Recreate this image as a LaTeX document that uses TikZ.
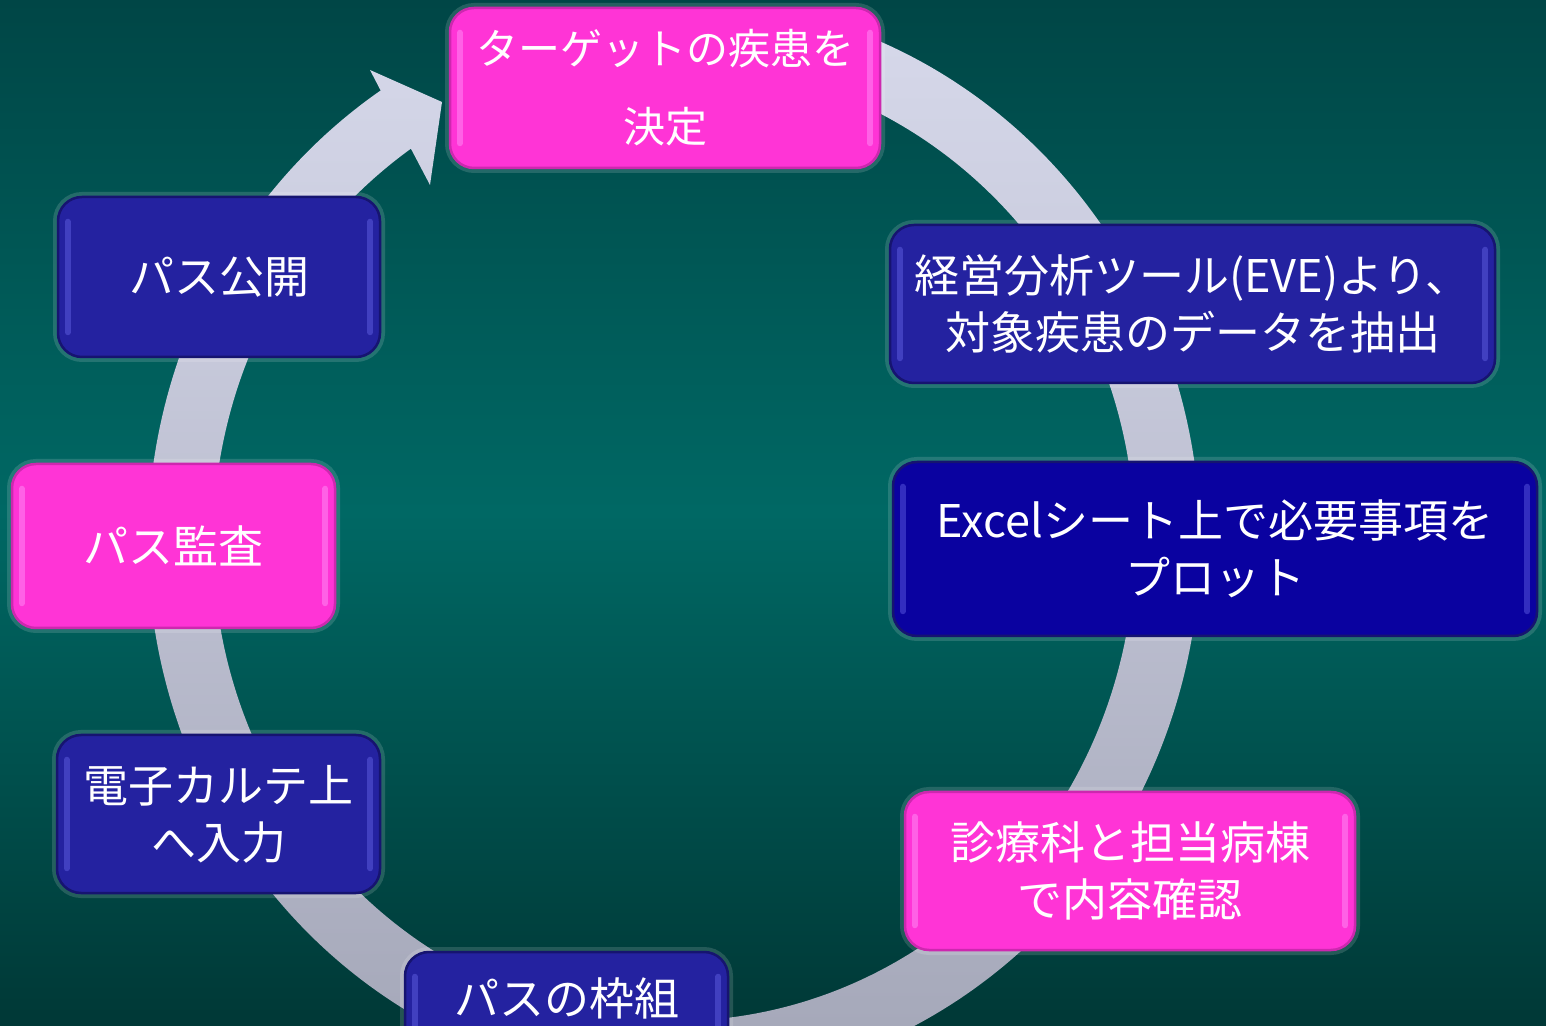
\documentclass[tikz,border=0pt]{standalone}
\usepackage{fontspec}
\setmainfont{Noto Sans CJK JP}
\usetikzlibrary{calc}
\definecolor{bgtop}{RGB}{0,70,70}
\definecolor{bgmid}{RGB}{0,104,100}
\definecolor{bgbot}{RGB}{0,56,54}
\definecolor{ringtop}{RGB}{214,216,234}
\definecolor{ringbot}{RGB}{160,163,180}
\definecolor{pinkfill}{RGB}{255,52,214}
\definecolor{pinkedge}{RGB}{205,40,175}
\definecolor{pinkhl}{RGB}{255,165,255}
\definecolor{bluefill}{RGB}{36,34,160}
\definecolor{blueedge}{RGB}{22,20,112}
\definecolor{bluehl}{RGB}{110,110,240}
\definecolor{navyfill}{RGB}{10,2,160}
\newcommand{\boxsheen}[2]{%
  \draw[line width=6pt, draw=#2, draw opacity=0.4, line cap=round]
    ([xshift=11pt,yshift=-26pt]#1.north west) -- ([xshift=11pt,yshift=26pt]#1.south west);
  \draw[line width=6pt, draw=#2, draw opacity=0.4, line cap=round]
    ([xshift=-11pt,yshift=-26pt]#1.north east) -- ([xshift=-11pt,yshift=26pt]#1.south east);}
\begin{document}
\begin{tikzpicture}[x=1pt,y=1pt,
  box/.style={rounded corners=24pt, line width=2.5pt, inner sep=0pt, text=white,
    align=center, font=\fontsize{45}{57}\selectfont,
    preaction={draw=white, draw opacity=0.14, line width=10pt}},
  pinkbox/.style={box, fill=pinkfill, draw=pinkedge},
  bluebox/.style={box, fill=bluefill, draw=blueedge},
  navybox/.style={box, fill=navyfill, draw=blueedge},
  label/.style={text=white, inner sep=0pt, font=\fontsize{45}{57}\selectfont}]
\useasboundingbox (0,0) rectangle (1546,1025);
\shade[top color=bgtop, bottom color=bgbot, middle color=bgmid] (0,0) rectangle (1546,1025);

% circular arrow
\coordinate (C) at (674,483);
\coordinate (tip) at (442,923);
\coordinate (hO) at (370,955);
\coordinate (hI) at (430,840);
\shade[top color=ringtop, bottom color=ringbot]
  ($(C)+(72:526pt and 544pt)$) arc[start angle=72, end angle=-236.1, x radius=526pt, y radius=544pt]
  -- (hO) -- (tip) -- (hI)
  -- ($(C)+(-235.2:461pt and 479pt)$) arc[start angle=-235.2, end angle=72, x radius=461pt, y radius=479pt]
  -- cycle;

% boxes
\node[pinkbox, minimum width=430, minimum height=160, font=\fontsize{42}{57}\selectfont]
  (target) at (665,937) {ターゲットの疾患を\\[21pt]決定};
\node[bluebox, minimum width=605, minimum height=158]
  (eve) at (1192.5,721) {経営分析ツール(EVE)より、\\対象疾患のデータを抽出};
\node[navybox, minimum width=644, minimum height=174]
  (excel) at (1215,476) {Excelシート上で必要事項を\\プロット};
\node[pinkbox, minimum width=450, minimum height=158]
  (check) at (1130,154) {診療科と担当病棟\\で内容確認};
\node[bluebox, minimum width=323, minimum height=158]
  (frame) at (566.5,-6) {};
\node[label] (frametext) at (566.5,27) {パスの枠組};
\node[bluebox, minimum width=323, minimum height=158]
  (emr) at (218.5,211) {電子カルテ上\\へ入力};
\node[pinkbox, minimum width=323, minimum height=164]
  (audit) at (173.5,479) {パス監査};
\node[bluebox, minimum width=322, minimum height=160]
  (publish) at (219,748) {パス公開};

\boxsheen{target}{pinkhl}
\boxsheen{eve}{bluehl}
\boxsheen{excel}{bluehl}
\boxsheen{check}{pinkhl}
\boxsheen{frame}{bluehl}
\boxsheen{emr}{bluehl}
\boxsheen{audit}{pinkhl}
\boxsheen{publish}{bluehl}
\end{tikzpicture}
\end{document}
